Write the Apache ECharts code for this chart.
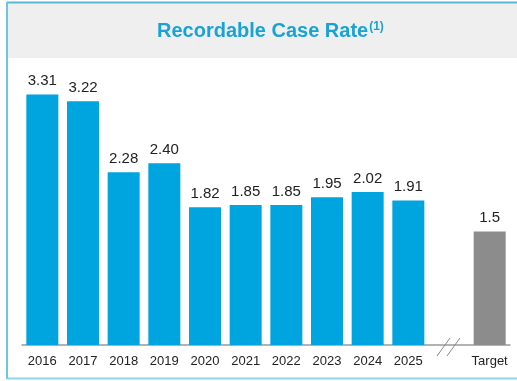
<!DOCTYPE html>
<html>
<head>
<meta charset="utf-8">
<script src="https://cdn.jsdelivr.net/npm/echarts@6/dist/echarts.min.js"></script>
<style>
  html, body { margin: 0; padding: 0; background: #fff; }
  #chart { width: 517px; height: 381px; }
</style>
</head>
<body>
<div id="chart"></div>
<script>
var categories = ['2016', '2017', '2018', '2019', '2020', '2021', '2022', '2023', '2024', '2025', '', 'Target'];
var rateValues = [3.31, 3.22, 2.28, 2.40, 1.82, 1.85, 1.85, 1.95, 2.02, 1.91, null, 1.5];
var valueLabels = ['3.31', '3.22', '2.28', '2.40', '1.82', '1.85', '1.85', '1.95', '2.02', '1.91', '', '1.5'];

var blue = '#00a5df';
var grey = '#8c8c8c';
var font = 'Liberation Sans, Arial, sans-serif';

var chartDom = document.getElementById('chart');
var myChart = echarts.init(chartDom);

var barData = rateValues.map(function (v, i) {
    return {
        value: v,
        itemStyle: { color: categories[i] == 'Target' ? grey : blue }
    };
});

// background band + frame
var frame = [
    { type: 'rect', z: -10, shape: { x: 7, y: 3, width: 512, height: 55 }, style: { fill: '#efefef' } },
    { type: 'line', z: 10, shape: { x1: 7, y1: 2.5, x2: 517, y2: 2.5 }, style: { stroke: '#5ab8d2', lineWidth: 2 } },
    { type: 'line', z: 10, shape: { x1: 7, y1: 2, x2: 7, y2: 379 }, style: { stroke: '#6cc6e2', lineWidth: 2 } },
    { type: 'line', z: 10, shape: { x1: 7, y1: 378.5, x2: 517, y2: 378.5 }, style: { stroke: '#8fd4ea', lineWidth: 2 } }
];

myChart.setOption({
    animation: false,
    backgroundColor: '#fff',
    graphic: frame,
    title: {
        text: '{t|Recordable Case Rate}{s|(1)}',
        left: 152,
        top: 16,
        textStyle: {
            rich: {
                t: { fontFamily: font, fontSize: 20, fontWeight: 'bold', color: '#18a3d5' },
                s: { fontFamily: font, fontSize: 12, fontWeight: 'bold', color: '#18a3d5', verticalAlign: 'top', padding: [0, 0, 9, 1] }
            }
        }
    },
    grid: { left: 22, right: 7, top: 80, bottom: 36 },
    xAxis: {
        type: 'category',
        data: categories,
        axisLine: { lineStyle: { color: '#999', width: 1.5 } },
        axisTick: { show: false },
        axisLabel: {
            color: '#222',
            fontSize: 13,
            fontFamily: font,
            margin: 10,
            interval: 0
        }
    },
    yAxis: {
        type: 'value',
        min: 0,
        max: 3.5,
        show: false,
        splitLine: { show: false }
    },
    series: [
        {
            type: 'bar',
            data: barData,
            barWidth: 32,
            label: {
                show: true,
                position: 'top',
                distance: 6,
                color: '#222',
                fontSize: 15,
                fontFamily: font,
                formatter: function (p) { return valueLabels[p.dataIndex]; }
            }
        }
    ]
});

// axis break marks "//" on the empty category
var gapX = myChart.convertToPixel({ xAxisIndex: 0 }, '');
var axisY = myChart.convertToPixel({ yAxisIndex: 0 }, 0);
var breakMarks = [-5, 5].map(function (dx) {
    return {
        type: 'line',
        z: 20,
        shape: { x1: gapX + dx - 7, y1: axisY + 11, x2: gapX + dx + 6, y2: axisY - 7 },
        style: { stroke: '#888', lineWidth: 1 }
    };
});
myChart.setOption({ graphic: frame.concat(breakMarks) }, { replaceMerge: ['graphic'] });
</script>
</body>
</html>
